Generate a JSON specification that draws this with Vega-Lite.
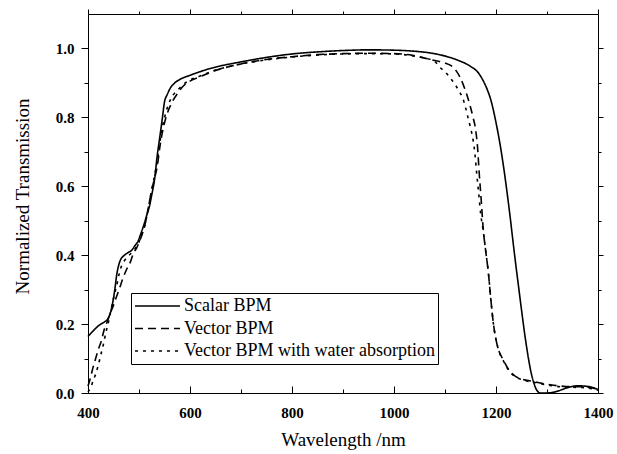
{
  "$schema": "https://vega.github.io/schema/vega-lite/v6.json",
  "width": 510,
  "height": 379,
  "autosize": {"type": "none"},
  "padding": {"left": 88, "top": 14, "right": 19, "bottom": 61},
  "background": "white",
  "config": {
    "view": {"stroke": null},
    "font": "Liberation Serif, Times New Roman, DejaVu Serif, serif",
    "axis": {
      "domainColor": "black", "domainWidth": 1, "tickColor": "black", "tickWidth": 1,
      "labelColor": "black", "titleColor": "black", "grid": false,
      "labelFont": "Liberation Serif, Times New Roman, DejaVu Serif, serif",
      "titleFont": "Liberation Serif, Times New Roman, DejaVu Serif, serif",
      "labelFontWeight": "bold", "labelFontSize": 15, "titleFontSize": 19, "titleFontWeight": "normal",
      "labelOverlap": false
    }
  },
  "data": {"values": [
    {"s":"Scalar BPM","x":400,"y":0.164},{"s":"Scalar BPM","x":410,"y":0.18},{"s":"Scalar BPM","x":416,"y":0.189},{"s":"Scalar BPM","x":425,"y":0.2},{"s":"Scalar BPM","x":432,"y":0.206},{"s":"Scalar BPM","x":440,"y":0.218},{"s":"Scalar BPM","x":446,"y":0.245},{"s":"Scalar BPM","x":450,"y":0.275},{"s":"Scalar BPM","x":453,"y":0.305},{"s":"Scalar BPM","x":456,"y":0.34},{"s":"Scalar BPM","x":460,"y":0.37},{"s":"Scalar BPM","x":465,"y":0.39},{"s":"Scalar BPM","x":470,"y":0.398},{"s":"Scalar BPM","x":478,"y":0.407},{"s":"Scalar BPM","x":486,"y":0.415},{"s":"Scalar BPM","x":492,"y":0.428},{"s":"Scalar BPM","x":498,"y":0.44},{"s":"Scalar BPM","x":503,"y":0.46},{"s":"Scalar BPM","x":510,"y":0.49},{"s":"Scalar BPM","x":515,"y":0.515},{"s":"Scalar BPM","x":521,"y":0.545},{"s":"Scalar BPM","x":525,"y":0.575},{"s":"Scalar BPM","x":531,"y":0.625},{"s":"Scalar BPM","x":535,"y":0.68},{"s":"Scalar BPM","x":541,"y":0.745},{"s":"Scalar BPM","x":546,"y":0.8},{"s":"Scalar BPM","x":550,"y":0.845},{"s":"Scalar BPM","x":555,"y":0.865},{"s":"Scalar BPM","x":561,"y":0.884},{"s":"Scalar BPM","x":570,"y":0.9},{"s":"Scalar BPM","x":580,"y":0.91},{"s":"Scalar BPM","x":600,"y":0.922},{"s":"Scalar BPM","x":640,"y":0.942},{"s":"Scalar BPM","x":700,"y":0.961},{"s":"Scalar BPM","x":750,"y":0.974},{"s":"Scalar BPM","x":800,"y":0.984},{"s":"Scalar BPM","x":850,"y":0.99},{"s":"Scalar BPM","x":900,"y":0.994},{"s":"Scalar BPM","x":950,"y":0.996},{"s":"Scalar BPM","x":1000,"y":0.995},{"s":"Scalar BPM","x":1040,"y":0.992},{"s":"Scalar BPM","x":1075,"y":0.986},{"s":"Scalar BPM","x":1100,"y":0.978},{"s":"Scalar BPM","x":1125,"y":0.966},{"s":"Scalar BPM","x":1150,"y":0.948},{"s":"Scalar BPM","x":1165,"y":0.93},{"s":"Scalar BPM","x":1175,"y":0.906},{"s":"Scalar BPM","x":1183,"y":0.88},{"s":"Scalar BPM","x":1190,"y":0.85},{"s":"Scalar BPM","x":1195,"y":0.82},{"s":"Scalar BPM","x":1200,"y":0.785},{"s":"Scalar BPM","x":1207,"y":0.73},{"s":"Scalar BPM","x":1214,"y":0.665},{"s":"Scalar BPM","x":1221,"y":0.59},{"s":"Scalar BPM","x":1227,"y":0.52},{"s":"Scalar BPM","x":1233,"y":0.444},{"s":"Scalar BPM","x":1239,"y":0.37},{"s":"Scalar BPM","x":1245,"y":0.3},{"s":"Scalar BPM","x":1251,"y":0.23},{"s":"Scalar BPM","x":1256,"y":0.174},{"s":"Scalar BPM","x":1262,"y":0.115},{"s":"Scalar BPM","x":1268,"y":0.065},{"s":"Scalar BPM","x":1274,"y":0.03},{"s":"Scalar BPM","x":1280,"y":0.008},{"s":"Scalar BPM","x":1287,"y":0.0},{"s":"Scalar BPM","x":1300,"y":0.0},{"s":"Scalar BPM","x":1320,"y":0.005},{"s":"Scalar BPM","x":1337,"y":0.014},{"s":"Scalar BPM","x":1360,"y":0.021},{"s":"Scalar BPM","x":1380,"y":0.019},{"s":"Scalar BPM","x":1390,"y":0.016},{"s":"Scalar BPM","x":1400,"y":0.01},

    {"s":"Vector BPM","x":400,"y":0.02},{"s":"Vector BPM","x":405,"y":0.045},{"s":"Vector BPM","x":410,"y":0.075},{"s":"Vector BPM","x":416,"y":0.105},{"s":"Vector BPM","x":421,"y":0.13},{"s":"Vector BPM","x":426,"y":0.15},{"s":"Vector BPM","x":431,"y":0.18},{"s":"Vector BPM","x":436,"y":0.2},{"s":"Vector BPM","x":442,"y":0.225},{"s":"Vector BPM","x":450,"y":0.255},{"s":"Vector BPM","x":456,"y":0.28},{"s":"Vector BPM","x":462,"y":0.305},{"s":"Vector BPM","x":469,"y":0.335},{"s":"Vector BPM","x":476,"y":0.36},{"s":"Vector BPM","x":483,"y":0.38},{"s":"Vector BPM","x":489,"y":0.405},{"s":"Vector BPM","x":495,"y":0.42},{"s":"Vector BPM","x":500,"y":0.437},{"s":"Vector BPM","x":506,"y":0.46},{"s":"Vector BPM","x":512,"y":0.49},{"s":"Vector BPM","x":518,"y":0.535},{"s":"Vector BPM","x":525,"y":0.59},{"s":"Vector BPM","x":530,"y":0.62},{"s":"Vector BPM","x":536,"y":0.66},{"s":"Vector BPM","x":541,"y":0.715},{"s":"Vector BPM","x":547,"y":0.765},{"s":"Vector BPM","x":552,"y":0.795},{"s":"Vector BPM","x":557,"y":0.818},{"s":"Vector BPM","x":562,"y":0.835},{"s":"Vector BPM","x":567,"y":0.85},{"s":"Vector BPM","x":575,"y":0.868},{"s":"Vector BPM","x":585,"y":0.888},{"s":"Vector BPM","x":600,"y":0.905},{"s":"Vector BPM","x":620,"y":0.918},{"s":"Vector BPM","x":642,"y":0.932},{"s":"Vector BPM","x":700,"y":0.955},{"s":"Vector BPM","x":750,"y":0.968},{"s":"Vector BPM","x":800,"y":0.976},{"s":"Vector BPM","x":850,"y":0.982},{"s":"Vector BPM","x":900,"y":0.985},{"s":"Vector BPM","x":950,"y":0.986},{"s":"Vector BPM","x":1000,"y":0.985},{"s":"Vector BPM","x":1036,"y":0.98},{"s":"Vector BPM","x":1060,"y":0.972},{"s":"Vector BPM","x":1080,"y":0.965},{"s":"Vector BPM","x":1100,"y":0.958},{"s":"Vector BPM","x":1112,"y":0.95},{"s":"Vector BPM","x":1122,"y":0.935},{"s":"Vector BPM","x":1130,"y":0.915},{"s":"Vector BPM","x":1137,"y":0.89},{"s":"Vector BPM","x":1143,"y":0.865},{"s":"Vector BPM","x":1149,"y":0.835},{"s":"Vector BPM","x":1155,"y":0.8},{"s":"Vector BPM","x":1160,"y":0.765},{"s":"Vector BPM","x":1164,"y":0.71},{"s":"Vector BPM","x":1167,"y":0.64},{"s":"Vector BPM","x":1171,"y":0.56},{"s":"Vector BPM","x":1175,"y":0.475},{"s":"Vector BPM","x":1180,"y":0.41},{"s":"Vector BPM","x":1185,"y":0.35},{"s":"Vector BPM","x":1190,"y":0.27},{"s":"Vector BPM","x":1195,"y":0.2},{"s":"Vector BPM","x":1200,"y":0.155},{"s":"Vector BPM","x":1205,"y":0.125},{"s":"Vector BPM","x":1214,"y":0.097},{"s":"Vector BPM","x":1224,"y":0.07},{"s":"Vector BPM","x":1235,"y":0.052},{"s":"Vector BPM","x":1245,"y":0.043},{"s":"Vector BPM","x":1260,"y":0.037},{"s":"Vector BPM","x":1275,"y":0.033},{"s":"Vector BPM","x":1290,"y":0.028},{"s":"Vector BPM","x":1306,"y":0.024},{"s":"Vector BPM","x":1337,"y":0.019},{"s":"Vector BPM","x":1368,"y":0.018},{"s":"Vector BPM","x":1385,"y":0.016},{"s":"Vector BPM","x":1400,"y":0.01},

    {"s":"Vector BPM with water absorption","x":400,"y":0.003},{"s":"Vector BPM with water absorption","x":405,"y":0.015},{"s":"Vector BPM with water absorption","x":410,"y":0.035},{"s":"Vector BPM with water absorption","x":415,"y":0.055},{"s":"Vector BPM with water absorption","x":420,"y":0.08},{"s":"Vector BPM with water absorption","x":425,"y":0.11},{"s":"Vector BPM with water absorption","x":430,"y":0.14},{"s":"Vector BPM with water absorption","x":435,"y":0.175},{"s":"Vector BPM with water absorption","x":440,"y":0.205},{"s":"Vector BPM with water absorption","x":445,"y":0.24},{"s":"Vector BPM with water absorption","x":450,"y":0.275},{"s":"Vector BPM with water absorption","x":456,"y":0.31},{"s":"Vector BPM with water absorption","x":461,"y":0.345},{"s":"Vector BPM with water absorption","x":466,"y":0.37},{"s":"Vector BPM with water absorption","x":471,"y":0.383},{"s":"Vector BPM with water absorption","x":476,"y":0.393},{"s":"Vector BPM with water absorption","x":484,"y":0.405},{"s":"Vector BPM with water absorption","x":492,"y":0.418},{"s":"Vector BPM with water absorption","x":500,"y":0.438},{"s":"Vector BPM with water absorption","x":506,"y":0.462},{"s":"Vector BPM with water absorption","x":512,"y":0.49},{"s":"Vector BPM with water absorption","x":518,"y":0.535},{"s":"Vector BPM with water absorption","x":525,"y":0.59},{"s":"Vector BPM with water absorption","x":531,"y":0.635},{"s":"Vector BPM with water absorption","x":536,"y":0.675},{"s":"Vector BPM with water absorption","x":541,"y":0.73},{"s":"Vector BPM with water absorption","x":547,"y":0.78},{"s":"Vector BPM with water absorption","x":552,"y":0.81},{"s":"Vector BPM with water absorption","x":557,"y":0.835},{"s":"Vector BPM with water absorption","x":562,"y":0.852},{"s":"Vector BPM with water absorption","x":567,"y":0.865},{"s":"Vector BPM with water absorption","x":575,"y":0.878},{"s":"Vector BPM with water absorption","x":585,"y":0.893},{"s":"Vector BPM with water absorption","x":600,"y":0.908},{"s":"Vector BPM with water absorption","x":620,"y":0.92},{"s":"Vector BPM with water absorption","x":642,"y":0.933},{"s":"Vector BPM with water absorption","x":700,"y":0.955},{"s":"Vector BPM with water absorption","x":750,"y":0.967},{"s":"Vector BPM with water absorption","x":800,"y":0.975},{"s":"Vector BPM with water absorption","x":850,"y":0.981},{"s":"Vector BPM with water absorption","x":900,"y":0.984},{"s":"Vector BPM with water absorption","x":950,"y":0.985},{"s":"Vector BPM with water absorption","x":1000,"y":0.984},{"s":"Vector BPM with water absorption","x":1036,"y":0.979},{"s":"Vector BPM with water absorption","x":1060,"y":0.972},{"s":"Vector BPM with water absorption","x":1080,"y":0.962},{"s":"Vector BPM with water absorption","x":1090,"y":0.945},{"s":"Vector BPM with water absorption","x":1100,"y":0.932},{"s":"Vector BPM with water absorption","x":1110,"y":0.915},{"s":"Vector BPM with water absorption","x":1120,"y":0.895},{"s":"Vector BPM with water absorption","x":1128,"y":0.875},{"s":"Vector BPM with water absorption","x":1135,"y":0.855},{"s":"Vector BPM with water absorption","x":1140,"y":0.83},{"s":"Vector BPM with water absorption","x":1145,"y":0.8},{"s":"Vector BPM with water absorption","x":1150,"y":0.77},{"s":"Vector BPM with water absorption","x":1155,"y":0.735},{"s":"Vector BPM with water absorption","x":1159,"y":0.69},{"s":"Vector BPM with water absorption","x":1162,"y":0.64},{"s":"Vector BPM with water absorption","x":1166,"y":0.58},{"s":"Vector BPM with water absorption","x":1170,"y":0.52},{"s":"Vector BPM with water absorption","x":1175,"y":0.47},{"s":"Vector BPM with water absorption","x":1180,"y":0.41},{"s":"Vector BPM with water absorption","x":1185,"y":0.35},{"s":"Vector BPM with water absorption","x":1190,"y":0.27},{"s":"Vector BPM with water absorption","x":1195,"y":0.2},{"s":"Vector BPM with water absorption","x":1200,"y":0.155},{"s":"Vector BPM with water absorption","x":1205,"y":0.125},{"s":"Vector BPM with water absorption","x":1214,"y":0.095},{"s":"Vector BPM with water absorption","x":1224,"y":0.068},{"s":"Vector BPM with water absorption","x":1235,"y":0.05},{"s":"Vector BPM with water absorption","x":1245,"y":0.042},{"s":"Vector BPM with water absorption","x":1260,"y":0.035},{"s":"Vector BPM with water absorption","x":1275,"y":0.031},{"s":"Vector BPM with water absorption","x":1290,"y":0.026},{"s":"Vector BPM with water absorption","x":1306,"y":0.022},{"s":"Vector BPM with water absorption","x":1337,"y":0.017},{"s":"Vector BPM with water absorption","x":1368,"y":0.016},{"s":"Vector BPM with water absorption","x":1385,"y":0.013},{"s":"Vector BPM with water absorption","x":1400,"y":0.008}
  ]},
  "layer": [
    {
      "mark": {"type": "line", "color": "black", "strokeWidth": 1.6, "interpolate": "monotone"},
      "encoding": {
        "x": {
          "field": "x", "type": "quantitative",
          "scale": {"domain": [400, 1400], "nice": false, "zero": false},
          "axis": {
            "orient": "bottom", "title": "Wavelength /nm",
            "values": [400, 500, 600, 700, 800, 900, 1000, 1100, 1200, 1300, 1400],
            "format": "d",
            "labelExpr": "datum.value % 200 === 0 ? datum.label : ''",
            "tickSize": {"condition": {"test": "datum.value % 200 === 0", "value": -7}, "value": -4},
            "labelPadding": 19, "labelFlush": false,
            "titleY": 37, "titleBaseline": "top"
          }
        },
        "y": {
          "field": "y", "type": "quantitative",
          "scale": {"domain": [0, 1.1], "nice": false, "zero": false},
          "axis": {
            "orient": "left", "title": "Normalized Transmission",
            "values": [0, 0.1, 0.2, 0.3, 0.4, 0.5, 0.6, 0.7, 0.8, 0.9, 1.0],
            "format": ".1f",
            "labelExpr": "round(datum.value * 10) % 2 === 0 ? datum.label : ''",
            "tickSize": {"condition": {"test": "round(datum.value * 10) % 2 === 0", "value": 7}, "value": 4},
            "labelPadding": 7,
            "titleX": -60, "titleY": 182, "titleBaseline": "alphabetic"
          }
        },
        "strokeDash": {
          "field": "s", "type": "nominal",
          "scale": {
            "domain": ["Scalar BPM", "Vector BPM", "Vector BPM with water absorption"],
            "range": [[1, 0], [8, 5], [3, 5]]
          },
          "legend": {
            "orient": "none", "legendX": 43, "legendY": 279, "title": null,
            "symbolType": "stroke", "symbolSize": 2025, "symbolStrokeWidth": 1.6,
            "symbolStrokeColor": "black",
            "labelFont": "Liberation Serif, Times New Roman, DejaVu Serif, serif",
            "labelFontSize": 18, "labelLimit": 400,
            "labelColor": "black", "labelOffset": 3,
            "clipHeight": 20, "rowPadding": 2.5, "padding": 3,
            "strokeColor": "black"
          }
        }
      }
    },
    {
      "mark": {"type": "line", "opacity": 0},
      "encoding": {
        "x": {
          "field": "x", "type": "quantitative",
          "axis": {
            "orient": "top", "title": null, "labels": false,
            "values": [400, 500, 600, 700, 800, 900, 1000, 1100, 1200, 1300, 1400],
            "tickSize": {"condition": {"test": "datum.value % 200 === 0", "value": 5}, "value": 3}
          }
        },
        "y": {
          "field": "y", "type": "quantitative",
          "axis": {
            "orient": "right", "title": null, "labels": false,
            "values": [0, 0.1, 0.2, 0.3, 0.4, 0.5, 0.6, 0.7, 0.8, 0.9, 1.0],
            "tickSize": {"condition": {"test": "round(datum.value * 10) % 2 === 0", "value": 5}, "value": 3}
          }
        },
        "detail": {"field": "s"}
      }
    }
  ],
  "resolve": {"axis": {"x": "independent", "y": "independent"}}
}
